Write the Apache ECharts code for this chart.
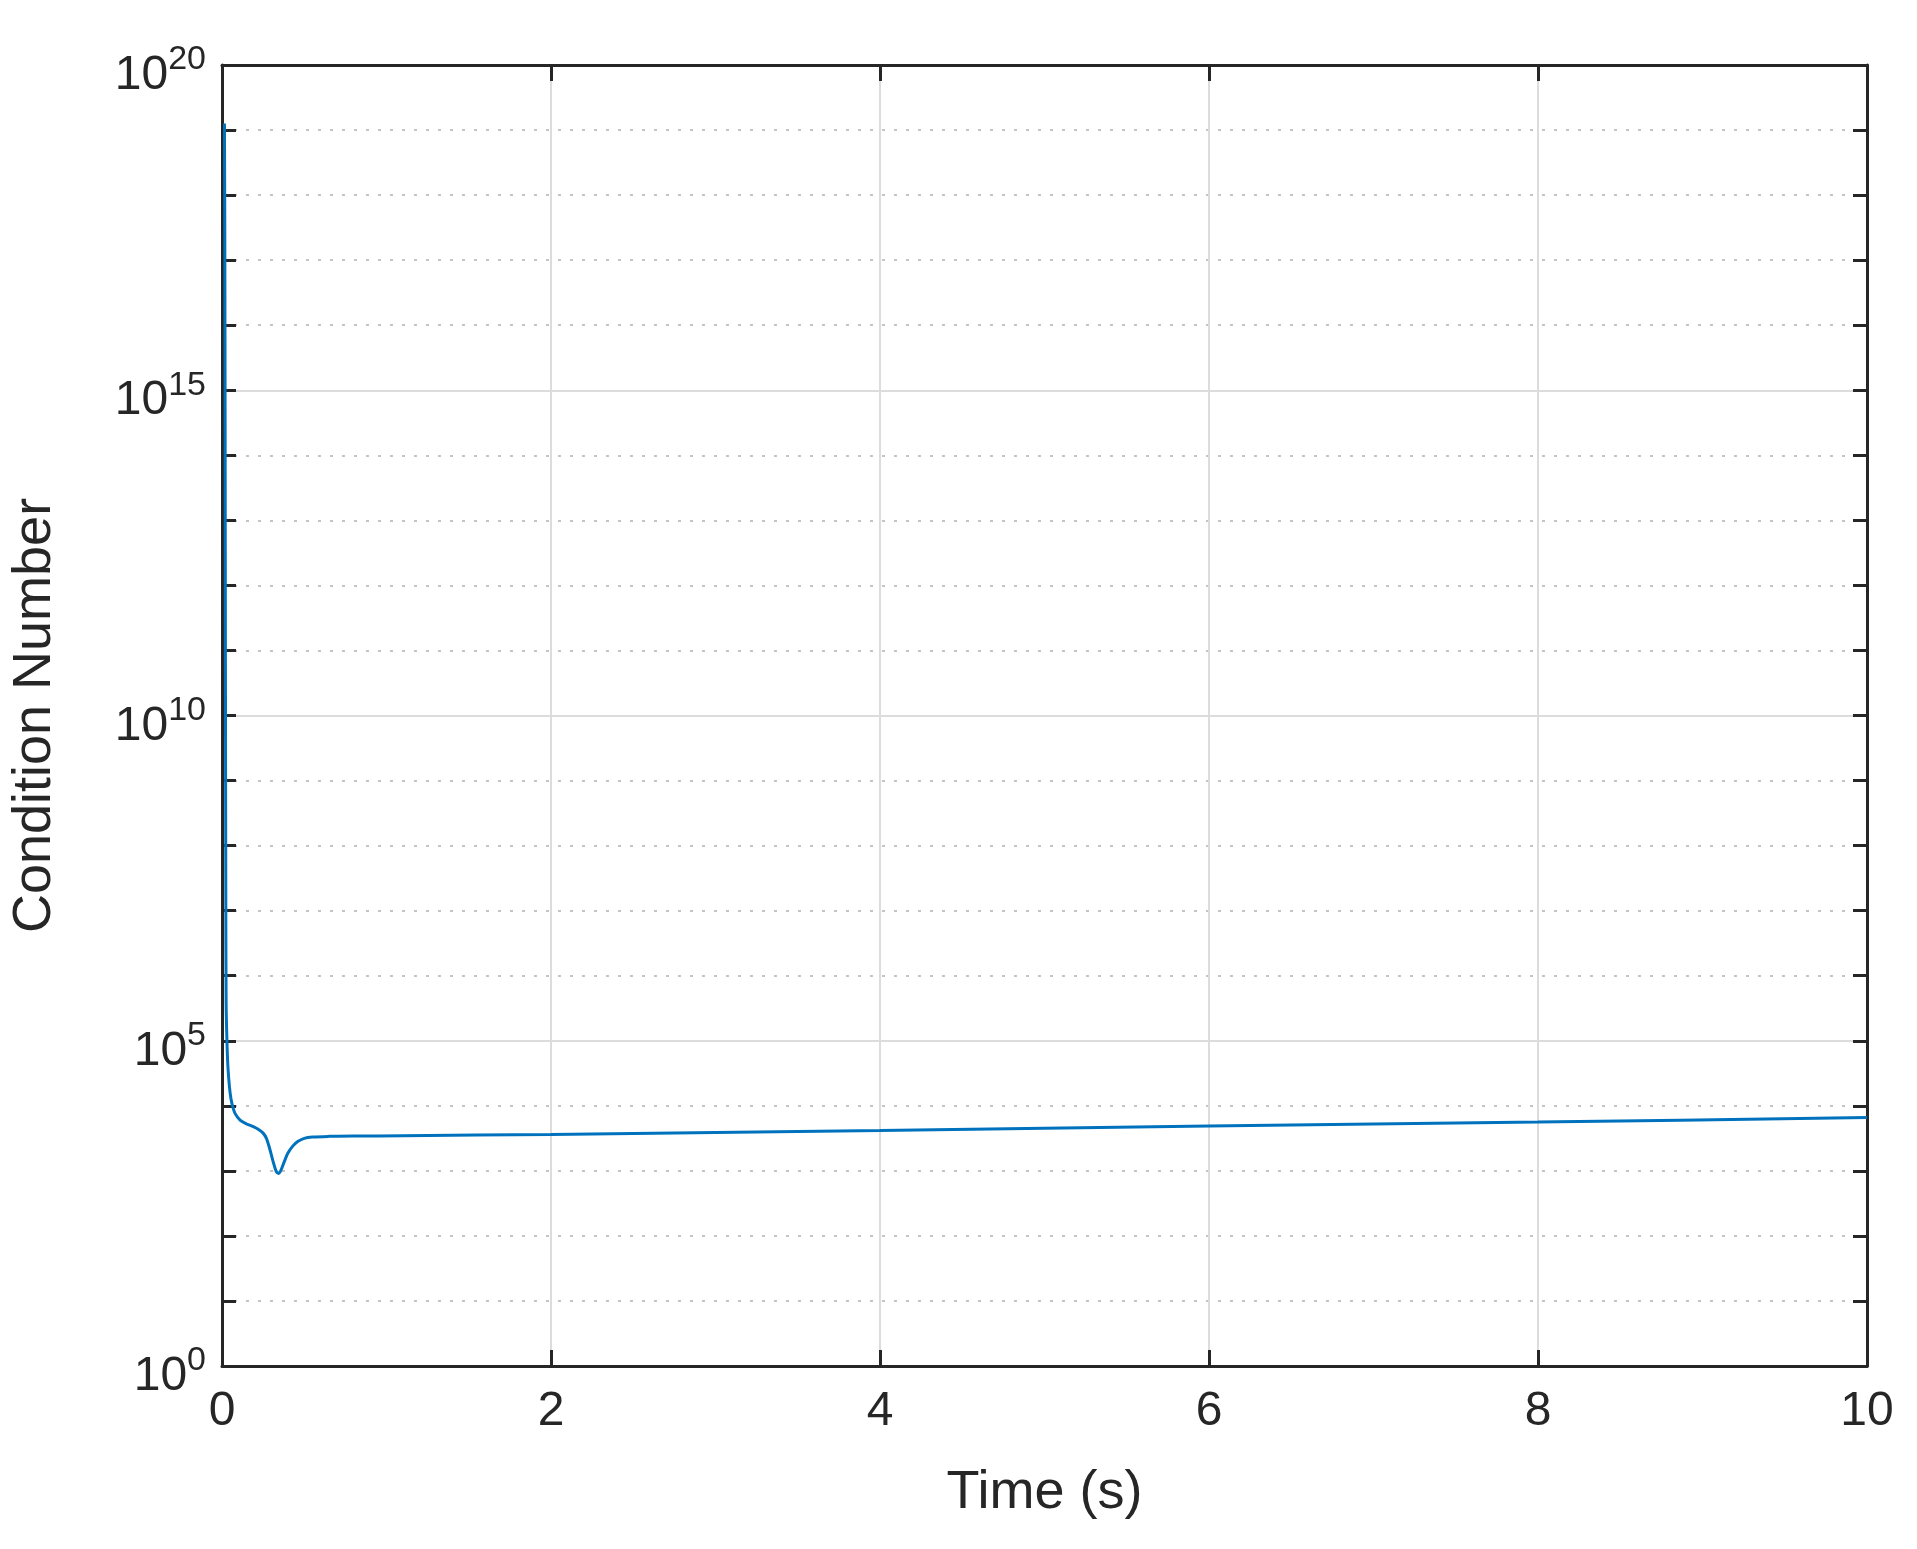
<!DOCTYPE html>
<html><head><meta charset="utf-8">
<script src="https://cdn.jsdelivr.net/npm/echarts@6/dist/echarts.min.js"></script>
<style>html,body{margin:0;padding:0;background:#fff}#c{width:1917px;height:1549px}</style>
</head><body><div id="c"></div>
<script>
const timeS = [0.015,0.017,0.019,0.021,0.023,0.025,0.03,0.036,0.045,0.055,0.066,0.08,0.11,0.15,0.19,0.22,0.25,0.27,0.29,0.31,0.33,0.345,0.36,0.38,0.4,0.43,0.46,0.5,0.55,0.65,0.8,1.1,2,4,6,8,10];
const log10Cond = [19.1,17.5,14.5,10.5,7.5,5.6,5.0,4.6,4.3,4.1,3.98,3.88,3.78,3.72,3.68,3.64,3.58,3.5,3.34,3.15,2.99,2.96,3.02,3.15,3.27,3.38,3.45,3.5,3.52,3.53,3.535,3.54,3.56,3.62,3.69,3.75,3.82];
const yTickExponents = [0,5,10,15,20];
const xTicks = [0,2,4,6,8,10];

const font = '"Liberation Sans", Helvetica, Arial, sans-serif';
const ink = '#262626';
const chart = echarts.init(document.getElementById('c'));
const data = timeS.map((t,i)=>[t,log10Cond[i]]);
const edge = {show:true,onZero:false,lineStyle:{color:ink,width:3}};
chart.setOption({
  animation:false,
  grid:{left:219,right:50,top:65,bottom:183,show:false},
  xAxis:[{type:'value',min:xTicks[0],max:xTicks[xTicks.length-1],interval:2,position:'bottom',
    axisLine:edge,
    axisTick:{inside:true,length:16,lineStyle:{color:ink,width:3}},
    axisLabel:{color:ink,fontSize:48,fontFamily:font,margin:22},
    splitLine:{show:true,lineStyle:{color:'#dcdcdc',width:2}},
    name:'Time (s)',nameLocation:'middle',nameGap:100,nameTextStyle:{color:ink,fontSize:54,fontFamily:font}},
   {type:'value',min:0,max:10,interval:2,position:'top',
    axisLine:edge,
    axisTick:{inside:true,length:16,lineStyle:{color:ink,width:3}},
    axisLabel:{show:false},splitLine:{show:false}}],
  yAxis:[
   {type:'value',min:0,max:20,interval:1,position:'left',offset:0,
    axisLine:edge,
    axisTick:{inside:true,length:14,lineStyle:{color:ink,width:3}},
    axisLabel:{color:ink,fontFamily:font,margin:16,
      formatter:v=>yTickExponents.includes(v)?'{b|10}{s|'+v+'}':'',
      rich:{b:{fontSize:48,fontFamily:font,color:ink,padding:[22,0,0,0]},s:{fontSize:34,fontFamily:font,color:ink,padding:[0,0,10,0]}}},
    splitLine:{show:true,lineStyle:{type:[3,9],width:2,color:['rgba(0,0,0,0)','#c4c4c4','#c4c4c4','#c4c4c4','#c4c4c4']}},
    name:'Condition Number',nameLocation:'middle',nameGap:160,nameTextStyle:{color:ink,fontSize:54,fontFamily:font}},
   {type:'value',min:0,max:20,interval:1,position:'right',offset:0,
    axisLine:edge,
    axisTick:{inside:true,length:14,lineStyle:{color:ink,width:3}},
    axisLabel:{show:false},splitLine:{show:false}},
   {type:'value',min:0,max:20,interval:5,position:'left',offset:0,
    axisLine:{show:false},axisTick:{show:false},axisLabel:{show:false},
    splitLine:{show:true,lineStyle:{color:'#dcdcdc',width:2}}}
  ],
  series:[{type:'line',data:data,xAxisIndex:0,yAxisIndex:0,showSymbol:false,smooth:0.3,
    lineStyle:{color:'#0072BD',width:3},z:5}]
});
</script></body></html>
